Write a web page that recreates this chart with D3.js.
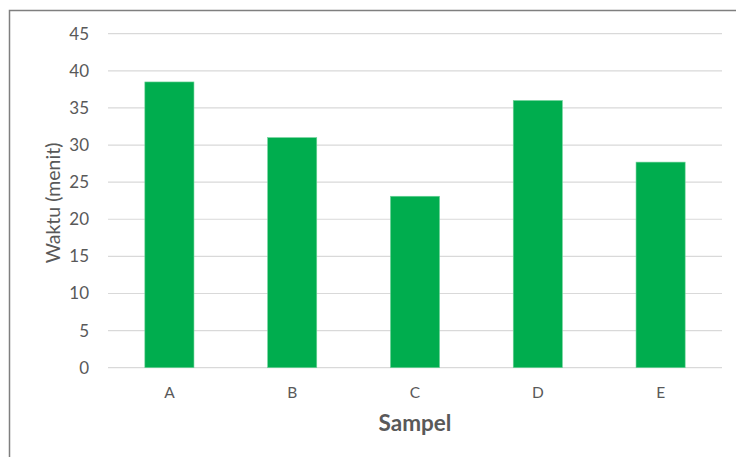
<!DOCTYPE html>
<html>
<head>
<meta charset="utf-8">
<script src="https://cdn.jsdelivr.net/npm/d3@7"></script>
<style>
  html, body { margin: 0; padding: 0; background: #fff; }
  svg { display: block; }
</style>
</head>
<body>
<script>
const categories = ["A", "B", "C", "D", "E"];
const values = [38.5, 31.0, 23.1, 36.0, 27.7];
const yTicks = [0, 5, 10, 15, 20, 25, 30, 35, 40, 45];
const xTitle = "Sampel";
const yTitle = "Waktu (menit)";

const W = 736, H = 457;
const plot = { left: 108, right: 722, top: 33.7, bottom: 367.7 };

const svg = d3.select("body").append("svg").attr("width", W).attr("height", H);

// outer frame (left and top edges visible)
svg.append("path")
  .attr("d", `M9.5,${H} L9.5,10.5 L${W},10.5`)
  .attr("fill", "none").attr("stroke", "#7f7f7f").attr("stroke-width", 1.5);

const x = d3.scaleBand().domain(categories).range([plot.left, plot.right])
  .paddingInner(0.6).paddingOuter(0.3);
const y = d3.scaleLinear().domain([0, 45]).range([plot.bottom, plot.top]);

// gridlines
svg.append("g").selectAll("line").data(yTicks).join("line")
  .attr("x1", plot.left).attr("x2", plot.right)
  .attr("y1", d => y(d)).attr("y2", d => y(d))
  .attr("stroke", "#d9d9d9").attr("stroke-width", 1.2);

// y axis labels
const yAxis = d3.axisLeft(y).tickValues(yTicks).tickSize(0).tickPadding(0);
const gy = svg.append("g").attr("transform", `translate(${plot.left - 19},0)`).call(yAxis);
gy.select(".domain").remove();
gy.selectAll("text").attr("font-family", "Lato, 'Open Sans', sans-serif")
  .attr("font-size", 17).attr("fill", "#595959");

// bars
svg.append("g").selectAll("rect").data(values).join("rect")
  .attr("x", (d, i) => x(categories[i]))
  .attr("width", x.bandwidth())
  .attr("y", d => y(d))
  .attr("height", d => y(0) - y(d))
  .attr("fill", "#00ad4e")
  .attr("stroke", "#6fd39a").attr("stroke-width", 0.6);

// x axis labels
const xAxis = d3.axisBottom(x).tickSize(0).tickPadding(0);
const gx = svg.append("g").attr("transform", `translate(0,${plot.bottom + 19})`).call(xAxis);
gx.select(".domain").remove();
gx.selectAll("text").attr("font-family", "Lato, 'Open Sans', sans-serif")
  .attr("font-size", 15.5).attr("fill", "#595959");

// axis titles
svg.append("text")
  .attr("x", (plot.left + plot.right) / 2).attr("y", 430.5)
  .attr("text-anchor", "middle")
  .attr("font-family", "Lato, 'Open Sans', sans-serif")
  .attr("font-weight", "bold").attr("font-size", 22.5)
  .attr("fill", "#595959").text(xTitle);

svg.append("text")
  .attr("transform", `translate(60,203) rotate(-90)`)
  .attr("text-anchor", "middle")
  .attr("font-family", "Lato, 'Open Sans', sans-serif")
  .attr("font-size", 19.5)
  .attr("fill", "#595959").text(yTitle);
</script>
</body>
</html>
